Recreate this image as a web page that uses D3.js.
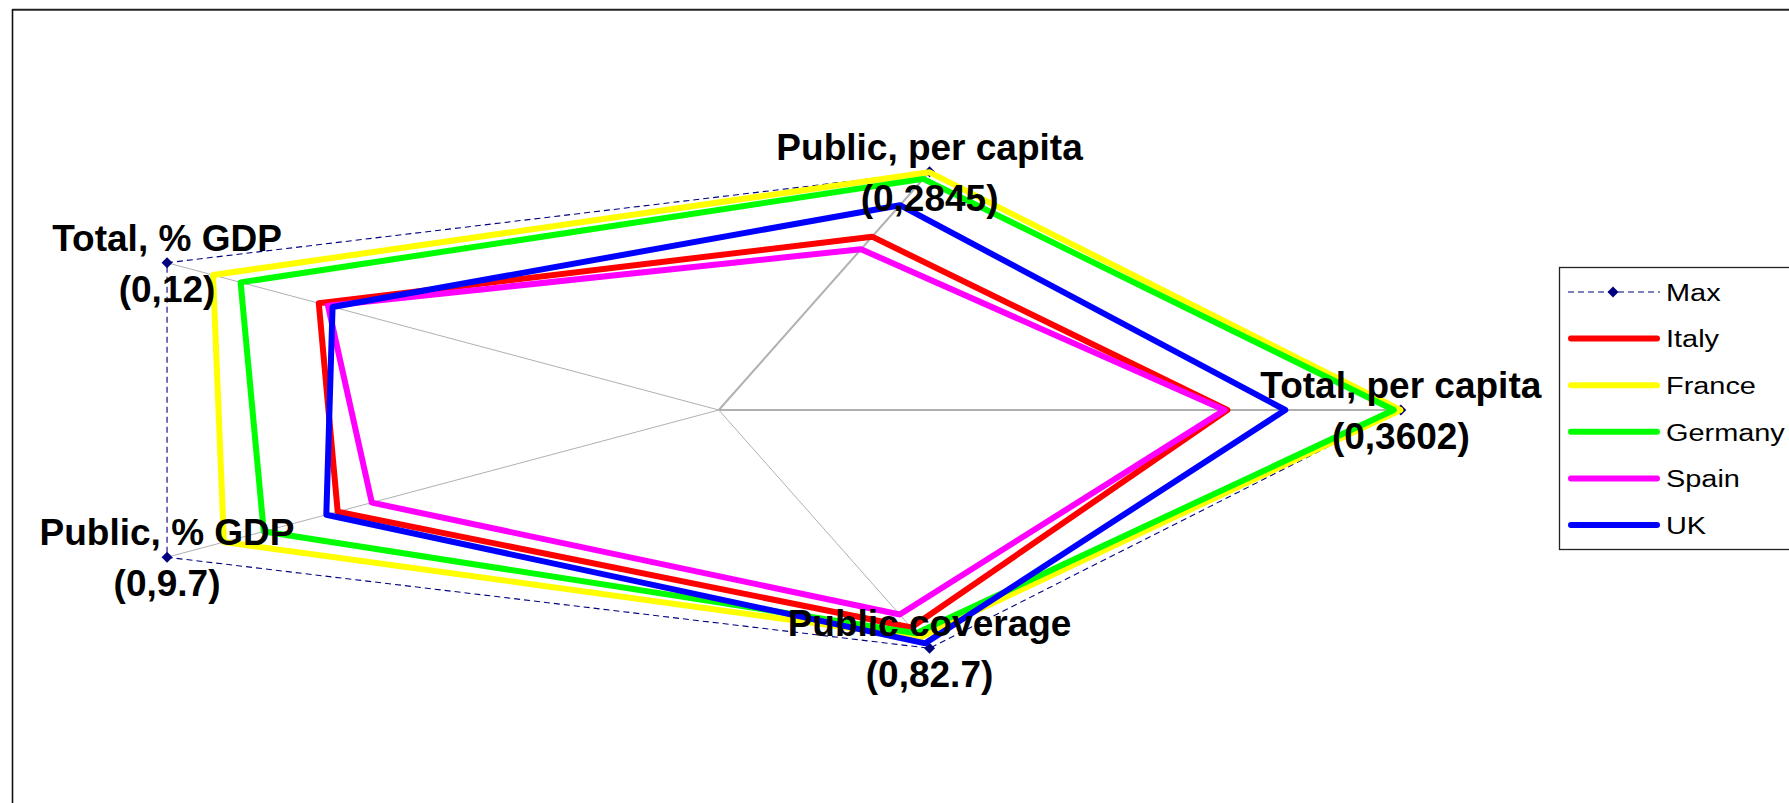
<!DOCTYPE html>
<html>
<head>
<meta charset="utf-8">
<script src="https://cdn.jsdelivr.net/npm/d3@7"></script>
<style>
  html, body { margin: 0; padding: 0; background: #fff; }
  svg { display: block; }
</style>
</head>
<body>
<svg id="chart" width="1789" height="803"></svg>
<script>
// ---- Data ----
const axes = ["Total, per capita", "Public, per capita", "Total, % GDP", "Public, % GDP", "Public coverage"];
const maxLabels = ["(0,3602)", "(0,2845)", "(0,12)", "(0,9.7)", "(0,82.7)"];
const maxValues = [3602, 2845, 12, 9.7, 82.7];
const italy   = [2686, 2070, 8.7, 6.7, 75.5];
const france  = [3600, 2840, 11.0, 8.7, 79.0];
const germany = [3565, 2760, 10.4, 8.0, 77.5];
const spain   = [2671, 1920, 8.5, 6.1, 71.0];
const uk      = [2992, 2446, 8.4, 6.9, 81.0];
const seriesNames = ["Max", "Italy", "France", "Germany", "Spain", "UK"];
const seriesColors = ["#000080", "#FF0000", "#FFFF00", "#00FF00", "#FF00FF", "#0000FF"];
const seriesValues = [maxValues, italy, france, germany, spain, uk];

// ---- Layout ----
const W = 1789, H = 803;
const cx = 718.8, cy = 410, Rx = 682, Ry = 250.5;
const svg = d3.select("#chart");
const FONT = "'Liberation Sans', Arial, Helvetica, sans-serif";

// frame lines (top and left)
svg.append("line").attr("x1", 12.5).attr("x2", W).attr("y1", 9.7).attr("y2", 9.7)
  .attr("stroke", "#222").attr("stroke-width", 2);
svg.append("line").attr("x1", 12.5).attr("x2", 12.5).attr("y1", 9).attr("y2", H)
  .attr("stroke", "#111").attr("stroke-width", 1.6);

// scales
const xScale = d3.scaleLinear().domain([-1, 1]).range([cx - Rx, cx + Rx]);
const yScale = d3.scaleLinear().domain([-1, 1]).range([cy + Ry, cy - Ry]);
const rScales = maxValues.map(m => d3.scaleLinear().domain([0, m]).range([0, 1]));
const angle = i => i * 2 * Math.PI / axes.length;
const pt = (i, v) => {
  const r = rScales[i](v);
  return [xScale(r * Math.cos(angle(i))), yScale(r * Math.sin(angle(i)))];
};

// spokes
axes.forEach((a, i) => {
  const [x1, y1] = pt(i, 0);
  const [x2, y2] = pt(i, maxValues[i]);
  svg.append("line").attr("x1", x1).attr("y1", y1).attr("x2", x2).attr("y2", y2)
    .attr("stroke", "#b0b0b0")
    .attr("stroke-width", (i === 0 || i === 1) ? 2 : 1);
});

const line = d3.line().curve(d3.curveLinearClosed);
const diamond = (x, y, s) => `M${x},${y - s}L${x + s},${y}L${x},${y + s}L${x - s},${y}Z`;

// series
seriesValues.forEach((vals, k) => {
  const pts = vals.map((v, i) => pt(i, v));
  if (k === 0) {
    svg.append("path").attr("d", line(pts))
      .attr("fill", "none").attr("stroke", seriesColors[k])
      .attr("stroke-width", 1.1).attr("stroke-dasharray", "6,4");
    pts.forEach(p => {
      svg.append("path").attr("d", diamond(p[0], p[1], 5.5)).attr("fill", seriesColors[k]);
    });
  } else {
    svg.append("path").attr("d", line(pts))
      .attr("fill", "none").attr("stroke", seriesColors[k])
      .attr("stroke-width", 6).attr("stroke-linejoin", "round");
  }
});

// axis labels
axes.forEach((a, i) => {
  const [x, y] = pt(i, maxValues[i]);
  const g = svg.append("g").attr("font-family", FONT).attr("font-weight", "bold")
    .attr("font-size", 37).attr("text-anchor", "middle").attr("fill", "#000");
  g.append("text").attr("x", x).attr("y", y - 12).text(a);
  g.append("text").attr("x", x).attr("y", y + 39).text(maxLabels[i]);
});

// legend
const lg = svg.append("g");
lg.append("rect").attr("x", 1559.5).attr("y", 267.5).attr("width", 260).attr("height", 282)
  .attr("fill", "#fff").attr("stroke", "#222").attr("stroke-width", 1.3);
seriesNames.forEach((name, k) => {
  const y = 292 + k * 46.6;
  if (k === 0) {
    lg.append("line").attr("x1", 1568).attr("x2", 1660).attr("y1", y).attr("y2", y)
      .attr("stroke", seriesColors[k]).attr("stroke-width", 1).attr("stroke-dasharray", "6,4");
    lg.append("path").attr("d", diamond(1613, y, 5.5)).attr("fill", seriesColors[k]);
  } else {
    lg.append("line").attr("x1", 1571).attr("x2", 1657).attr("y1", y).attr("y2", y)
      .attr("stroke", seriesColors[k]).attr("stroke-width", 6).attr("stroke-linecap", "round");
  }
  lg.append("g").attr("transform", `translate(1666,${y + 8.8}) scale(1.18,1)`)
    .append("text").attr("x", 0).attr("y", 0)
    .attr("font-family", FONT).attr("font-size", 24.5).attr("fill", "#000")
    .text(name);
});
</script>
</body>
</html>
